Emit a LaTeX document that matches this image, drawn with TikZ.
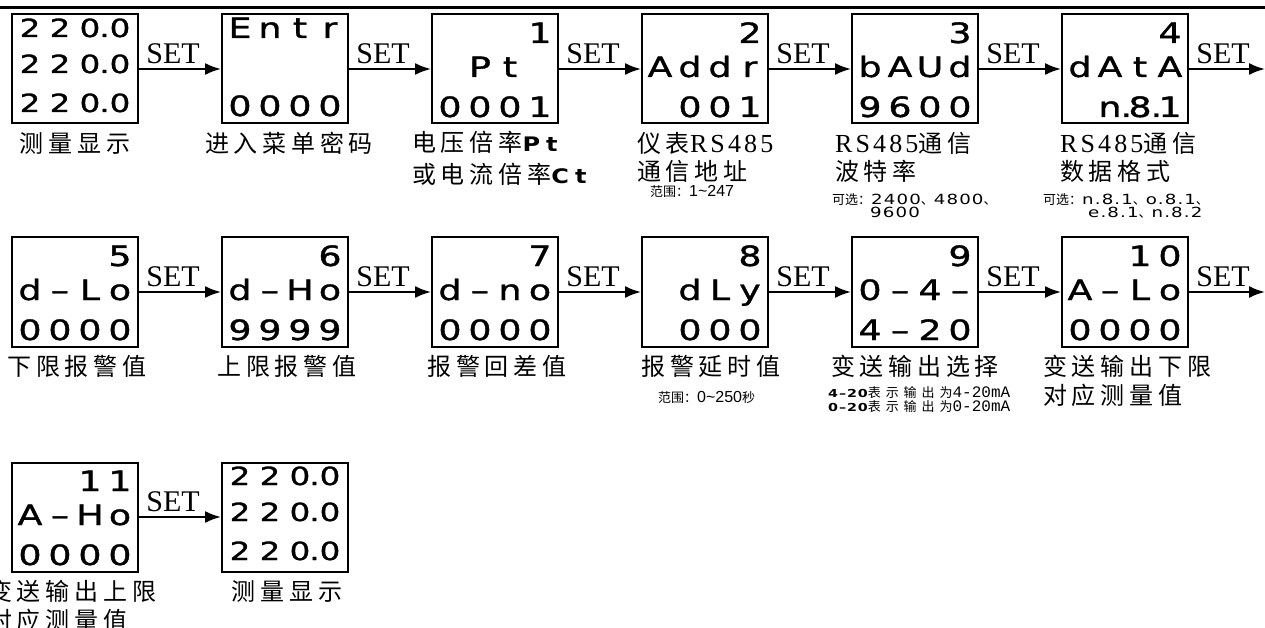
\documentclass[tikz,border=0pt]{standalone}
\usepackage{fontspec}
\usetikzlibrary{arrows.meta}
\newfontfamily\cjk[LetterSpace=20]{Noto Sans CJK SC}
\newfontfamily\cjkw[LetterSpace=38]{Noto Sans CJK SC}
\newfontfamily\cjkn{Noto Sans CJK SC}
\newfontfamily\serl[LetterSpace=12]{Liberation Serif}
\newfontfamily\serf{Liberation Serif}
\newfontfamily\segf[FakeStretch=1.3,FakeBold=1.2]{DejaVu Sans}
\newfontfamily\segs[FakeStretch=1.3,LetterSpace=8]{DejaVu Sans}
\newfontfamily\segw[FakeStretch=1.2,LetterSpace=30]{DejaVu Sans}
\newfontfamily\sansf{Liberation Sans}
\newfontfamily\monof{Liberation Mono}
\newcommand\cells[4]{\makebox[30pt]{#1}\makebox[30pt]{#2}\makebox[30pt]{#3}\makebox[30pt]{#4}}
\newcommand\dotr{\rlap{\kern-1pt.}}
\newcommand\rs{{\serl\fontsize{26}{28}\selectfont RS485}}
\newcommand\ip[1]{{\segw\bfseries\fontsize{20}{20}\selectfont #1}}
\newcommand\sgs[1]{{\segs\fontsize{14}{14}\selectfont #1}}
\newcommand\sgt[1]{{\segs\bfseries\fontsize{11}{11}\selectfont #1}}
\newcommand\mkdisp[6]{%
  \node[dbox] (#1) at (#2,#3+55) {};
  \node[seg] (#1a) at (#2,#3+29) {#4};
  \node[seg] (#1b) at (#2,#3+63) {#5};
  \node[seg] (#1c) at (#2,#3+103) {#6};}
\newcommand\mkmeas[3]{%
  \node[dbox] (#1) at (#2,#3+55) {};
  \node[segm] (#1a) at (#2,#3+23) {\cells{2}{2}{0\dotr}{0}};
  \node[segm] (#1b) at (#2,#3+59) {\cells{2}{2}{0\dotr}{0}};
  \node[segm] (#1c) at (#2,#3+98) {\cells{2}{2}{0\dotr}{0}};}
\begin{document}
\begin{tikzpicture}[x=1pt,y=-1pt,
  dbox/.style={draw, line width=2pt, minimum width=126pt, minimum height=109pt, inner sep=0pt},
  seg/.style={font=\segf\fontsize{28}{30}\selectfont, inner sep=0pt, anchor=base},
  segm/.style={font=\segf\fontsize{25}{26}\selectfont, inner sep=0pt, anchor=base},
  lbl/.style={font=\cjk\fontsize{24}{28}\selectfont, inner sep=0pt, anchor=base},
  lblw/.style={lbl, anchor=base west},
  smallw/.style={font=\cjkn\fontsize{13}{14}\selectfont, inner sep=0pt, anchor=base west},
  tinyw/.style={font=\cjkw\fontsize{13}{14}\selectfont, inner sep=0pt, anchor=base west},
  arr/.style={line width=2pt, -{Latex[length=16pt,width=12pt]}},
  setlbl/.style={font=\serf\fontsize{30}{30}\selectfont, inner sep=0pt, anchor=base, pos=0, xshift=34pt, yshift=5.5pt}]
\useasboundingbox (0,0) rectangle (1265,628);
\fill[white] (0,0) rectangle (1265,628);
\draw[line width=3pt] (0,8) -- (1265,8);
% row 1
\mkmeas{b1}{75}{14}
\node[dbox] (b2) at (285,69) {};
\node[seg] (b2a) at (285,38) {\cells{E}{n}{t}{r}};
\node[seg] (b2c) at (285,116) {\cells{0}{0}{0}{0}};
\mkdisp{b3}{495}{14}{\cells{}{}{}{1}}{\cells{}{P}{t}{}}{\cells{0}{0}{0}{1}}
\mkdisp{b4}{705}{14}{\cells{}{}{}{2}}{\cells{A}{d}{d}{r}}{\cells{}{0}{0}{1}}
\mkdisp{b5}{915}{14}{\cells{}{}{}{3}}{\cells{b}{A}{U}{d}}{\cells{9}{6}{0}{0}}
\mkdisp{b6}{1125}{14}{\cells{}{}{}{4}}{\cells{d}{A}{t}{A}}{\cells{}{n\dotr}{8\dotr}{1}}
\coordinate (e1) at (1265,69);
% row 2
\mkdisp{b7}{75}{237}{\cells{}{}{}{5}}{\cells{d}{–}{L}{o}}{\cells{0}{0}{0}{0}}
\mkdisp{b8}{285}{237}{\cells{}{}{}{6}}{\cells{d}{–}{H}{o}}{\cells{9}{9}{9}{9}}
\mkdisp{b9}{495}{237}{\cells{}{}{}{7}}{\cells{d}{–}{n}{o}}{\cells{0}{0}{0}{0}}
\mkdisp{b10}{705}{237}{\cells{}{}{}{8}}{\cells{}{d}{L}{y}}{\cells{}{0}{0}{0}}
\mkdisp{b11}{915}{237}{\cells{}{}{}{9}}{\cells{0}{–}{4}{–}}{\cells{4}{–}{2}{0}}
\mkdisp{b12}{1125}{237}{\cells{}{}{1}{0}}{\cells{A}{–}{L}{o}}{\cells{0}{0}{0}{0}}
\coordinate (e2) at (1265,292);
% row 3
\mkdisp{b13}{75}{462}{\cells{}{}{1}{1}}{\cells{A}{–}{H}{o}}{\cells{0}{0}{0}{0}}
\mkmeas{b14}{285}{462}
% arrows
\draw[arr] (b1) -- node[setlbl] {SET} (b2);
\draw[arr] (b2) -- node[setlbl] {SET} (b3);
\draw[arr] (b3) -- node[setlbl] {SET} (b4);
\draw[arr] (b4) -- node[setlbl] {SET} (b5);
\draw[arr] (b5) -- node[setlbl] {SET} (b6);
\draw[arr] (b6) -- node[setlbl] {SET} (e1);
\draw[arr] (b7) -- node[setlbl] {SET} (b8);
\draw[arr] (b8) -- node[setlbl] {SET} (b9);
\draw[arr] (b9) -- node[setlbl] {SET} (b10);
\draw[arr] (b10) -- node[setlbl] {SET} (b11);
\draw[arr] (b11) -- node[setlbl] {SET} (b12);
\draw[arr] (b12) -- node[setlbl] {SET} (e2);
\draw[arr] (b13) -- node[setlbl] {SET} (b14);
% labels row 1
\node[lbl] (l1) at (75,153) {测量显示};
\node[lbl] (l2) at (289,153) {进入菜单密码};
\node[lblw] (l3a) at (412,152) {电压倍率\ip{Pt}};
\node[lblw] (l3b) at (412,184) {或电流倍率\ip{Ct}};
\node[lblw] (l4a) at (637,153) {仪表\rs};
\node[lblw] (l4b) at (637,181) {通信地址};
\node[smallw] (l4c) at (650,197) {范围：{\sansf\fontsize{16}{16}\selectfont 1\textasciitilde 247}};
\node[lblw] (l5a) at (835,153) {\rs 通信};
\node[lblw] (l5b) at (835,181) {波特率};
\node[smallw] (l5c) at (832,205) {可选：\sgs{2400}、\sgs{4800}、};
\node[smallw] (l5d) at (870,218) {\sgs{9600}};
\node[lblw] (l6a) at (1060,153) {\rs 通信};
\node[lblw] (l6b) at (1060,181) {数据格式};
\node[smallw] (l6c) at (1043,205) {可选：\sgs{n.8.1}、\sgs{o.8.1}、};
\node[smallw] (l6d) at (1088,218) {\sgs{e.8.1}、\sgs{n.8.2}};
% labels row 2
\node[lbl] (l7) at (77,375) {下限报警值};
\node[lbl] (l8) at (287,375) {上限报警值};
\node[lbl] (l9) at (497,375) {报警回差值};
\node[lbl] (l10) at (711,375) {报警延时值};
\node[smallw] (l10s) at (658,402) {范围：{\sansf\fontsize{16}{16}\selectfont 0\textasciitilde 250}秒};
\node[lbl] (l11) at (915,375) {变送输出选择};
\node[tinyw] (l11s) at (828,397) {\sgt{4–20}表示输出为{\monof\fontsize{16}{16}\selectfont 4-20mA}};
\node[tinyw] (l11t) at (828,411) {\sgt{0–20}表示输出为{\monof\fontsize{16}{16}\selectfont 0-20mA}};
\node[lblw] (l12a) at (1043,375) {变送输出下限};
\node[lblw] (l12b) at (1043,404) {对应测量值};
% labels row 3
\node[lblw] (l13a) at (-12,600) {变送输出上限};
\node[lblw] (l13b) at (-12,629) {对应测量值};
\node[lbl] (l14) at (287,600) {测量显示};
\end{tikzpicture}
\end{document}
